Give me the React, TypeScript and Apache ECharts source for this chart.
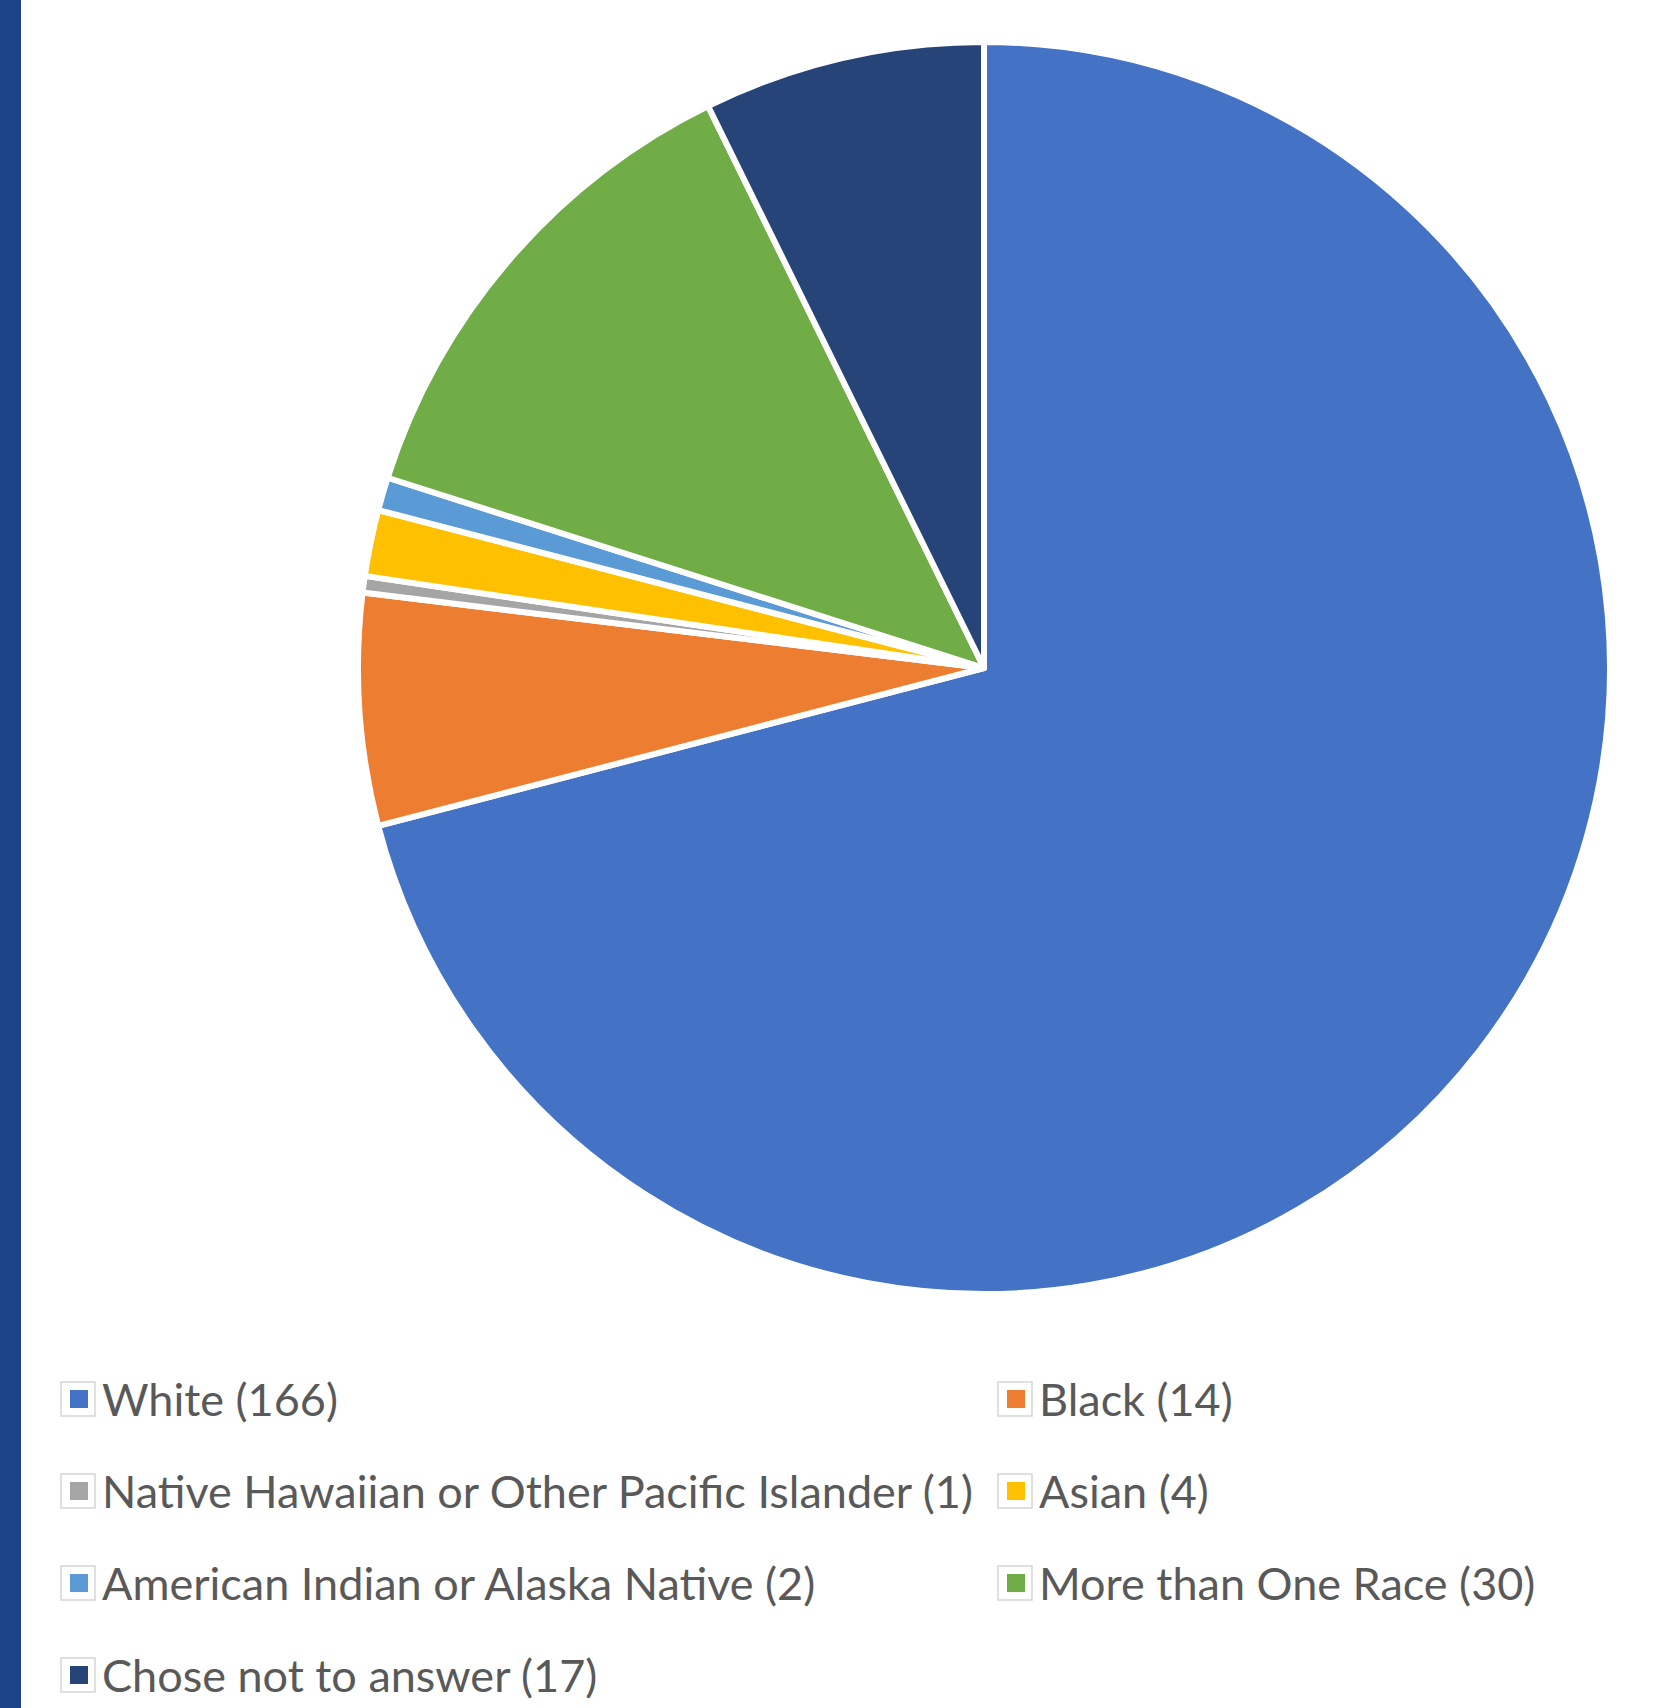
import React, { useEffect, useRef } from "react";
import * as echarts from "echarts";

const categories = [
  "White (166)",
  "Black (14)",
  "Native Hawaiian or Other Pacific Islander (1)",
  "Asian (4)",
  "American Indian or Alaska Native (2)",
  "More than One Race (30)",
  "Chose not to answer (17)",
];
const values = [166, 14, 1, 4, 2, 30, 17];
const colors = ["#4472C4", "#ED7D31", "#A5A5A5", "#FFC000", "#5B9BD5", "#70AD47", "#264478"];
const legendLeftCol = [categories[0], categories[2], categories[4], categories[6]];
const legendRightCol = [categories[1], categories[3], categories[5]];

export default function App() {
  const ref = useRef<HTMLDivElement>(null);
  useEffect(() => {
    document.body.style.margin = "0";
    if (!ref.current) return;
    const chart = echarts.init(ref.current, null, { renderer: "svg" });
    const legendTop = 1376;
    const itemH = 46;
    const gap = 46;
    const rowY = [0, 1, 2, 3].map((i) => legendTop + itemH / 2 + i * (itemH + gap));
    const boxes: any[] = [];
    legendLeftCol.forEach((_, i) => {
      boxes.push({
        type: "rect",
        shape: { x: 61, y: rowY[i] - 17, width: 34, height: 34 },
        style: { fill: "none", stroke: "#d6d6d6", lineWidth: 1.5 },
        z: 1,
      });
    });
    legendRightCol.forEach((_, i) => {
      boxes.push({
        type: "rect",
        shape: { x: 998, y: rowY[i] - 17, width: 34, height: 34 },
        style: { fill: "none", stroke: "#d6d6d6", lineWidth: 1.5 },
        z: 1,
      });
    });
    const textStyle = {
      color: "#595959",
      fontFamily: "Lato",
      fontSize: 45,
      lineHeight: itemH,
      padding: [0, 0, 0, 8],
    };
    chart.setOption({
      animation: false,
      backgroundColor: "#ffffff",
      color: colors,
      graphic: [
        {
          type: "rect",
          shape: { x: 0, y: 0, width: 21, height: 1708 },
          style: { fill: "#1D4488" },
          z: 1,
        },
        ...boxes,
      ],
      legend: [
        {
          orient: "vertical",
          left: 68,
          top: legendTop,
          padding: 0,
          itemWidth: 20,
          itemHeight: 20,
          itemGap: gap,
          icon: "rect",
          selectedMode: false,
          data: legendLeftCol,
          textStyle,
          z: 10,
        },
        {
          orient: "vertical",
          left: 1005,
          top: legendTop,
          padding: 0,
          itemWidth: 20,
          itemHeight: 20,
          itemGap: gap,
          icon: "rect",
          selectedMode: false,
          data: legendRightCol,
          textStyle,
          z: 10,
        },
      ],
      series: [
        {
          type: "pie",
          center: [984, 668],
          radius: 626,
          startAngle: 90,
          clockwise: true,
          silent: true,
          label: { show: false },
          labelLine: { show: false },
          itemStyle: { borderColor: "#ffffff", borderWidth: 6 },
          data: categories.map((name, i) => ({ name, value: values[i] })),
        },
      ],
    });
    return () => chart.dispose();
  }, []);
  return <div ref={ref} style={{ width: 1669, height: 1708 }} />;
}
